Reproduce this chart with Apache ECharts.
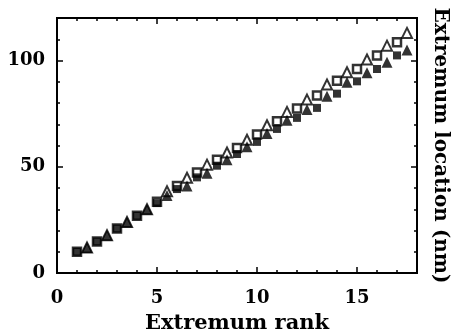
<!DOCTYPE html>
<html>
<head>
<meta charset="utf-8">
<script src="https://cdn.jsdelivr.net/npm/echarts@6/dist/echarts.min.js"></script>
<style>
  html, body { margin: 0; padding: 0; background: #fff; }
  #main { width: 459px; height: 332px; }
</style>
</head>
<body>
<div id="main"></div>
<script>
// squares sit on whole ranks, triangles on half ranks
var squareRanks = [1, 2, 3, 4, 5, 6, 7, 8, 9, 10, 11, 12, 13, 14, 15, 16, 17];
var triangleRanks = [1.5, 2.5, 3.5, 4.5, 5.5, 6.5, 7.5, 8.5, 9.5, 10.5, 11.5, 12.5, 13.5, 14.5, 15.5, 16.5, 17.5];

var filledSquares = [10, 14.8, 20.9, 26.9, 32.9, 39.5, 45, 50.5, 56, 61.7, 67.8, 73, 77.7, 84.4, 90.2, 96, 102.4];
var openSquares = [10, 14.8, 21, 27, 33.5, 41, 47.3, 53.3, 58.8, 65.2, 71.4, 77.4, 83.5, 90.5, 96, 102.4, 108.6];
var filledTriangles = [12, 17.8, 24, 30, 36.5, 41, 47, 53.3, 59.4, 65.6, 71.9, 76.9, 83.2, 89.8, 94.2, 99.2, 104.9];
var openTriangles = [12, 17.8, 24, 30, 38.5, 44.8, 51, 56.7, 62.7, 69.5, 75.8, 81.6, 88.7, 94.5, 100.5, 107, 113];

var xTicks = [0, 5, 10, 15];
var yTicks = [0, 50, 100];

var font = 'DejaVu Serif';

function pairs(xs, ys) {
  return xs.map(function (x, i) { return [x, ys[i]]; });
}

var chart = echarts.init(document.getElementById('main'));

function xAxisOf(pos, interval, len, withLabels) {
  return {
    type: 'value', position: pos, min: 0, max: 18, interval: interval,
    axisLine: { show: true, onZero: false, lineStyle: { color: '#000', width: 2 } },
    axisTick: { show: true, inside: true, length: len, lineStyle: { color: '#000', width: 1.5 } },
    axisLabel: {
      show: withLabels, showMaxLabel: false, margin: 16,
      color: '#000', fontFamily: font, fontWeight: 'bold', fontSize: 18,
      formatter: function (v) { return xTicks.indexOf(v) >= 0 ? String(v) : ''; }
    },
    splitLine: { show: false }
  };
}

function yAxisOf(pos, interval, len, withLabels) {
  return {
    type: 'value', position: pos, min: 0, max: 120, interval: interval,
    axisLine: { show: true, onZero: false, lineStyle: { color: '#000', width: 2 } },
    axisTick: { show: true, inside: true, length: len, lineStyle: { color: '#000', width: 1.5 } },
    axisLabel: {
      show: withLabels, showMaxLabel: false, margin: 12,
      color: '#000', fontFamily: font, fontWeight: 'bold', fontSize: 18,
      formatter: function (v) { return yTicks.indexOf(v) >= 0 ? String(v) : ''; }
    },
    splitLine: { show: false }
  };
}

var xMain = xAxisOf('bottom', 5, 6, true);
xMain.name = 'Extremum rank';
xMain.nameLocation = 'middle';
xMain.nameGap = 40;
xMain.nameTextStyle = { color: '#000', fontFamily: font, fontWeight: 'bold', fontSize: 21 };

var yRight = yAxisOf('right', 50, 6, false);
yRight.name = 'Extremum location (nm)';
yRight.nameLocation = 'middle';
yRight.nameRotate = -90;
yRight.nameGap = 13;
yRight.nameTextStyle = { color: '#000', fontFamily: font, fontWeight: 'bold', fontSize: 20 };

var option = {
  backgroundColor: '#fff',
  animation: false,
  grid: { left: 57, right: 42, top: 18, bottom: 59, outerBoundsMode: 'none' },
  xAxis: [
    xMain,
    xAxisOf('bottom', 1, 3, false),
    xAxisOf('top', 5, 6, false),
    xAxisOf('top', 1, 3, false)
  ],
  yAxis: [
    yAxisOf('left', 50, 6, true),
    yAxisOf('left', 10, 3, false),
    yRight,
    yAxisOf('right', 10, 3, false)
  ],
  // open marks first, so the filled ones cover them where they coincide
  series: [
    {
      name: 'open squares', type: 'scatter', symbol: 'rect', symbolSize: 8,
      data: pairs(squareRanks, openSquares),
      itemStyle: { color: '#fff', borderColor: '#000', borderWidth: 2.5 }
    },
    {
      name: 'open triangles', type: 'scatter', symbol: 'triangle', symbolSize: 10,
      data: pairs(triangleRanks, openTriangles),
      itemStyle: { color: '#fff', borderColor: '#000', borderWidth: 2 }
    },
    {
      name: 'filled squares', type: 'scatter', symbol: 'rect', symbolSize: 8,
      data: pairs(squareRanks, filledSquares),
      itemStyle: { color: '#000' }
    },
    {
      name: 'filled triangles', type: 'scatter', symbol: 'triangle', symbolSize: 11,
      data: pairs(triangleRanks, filledTriangles),
      itemStyle: { color: '#000' }
    }
  ]
};

chart.setOption(option);
</script>
</body>
</html>
